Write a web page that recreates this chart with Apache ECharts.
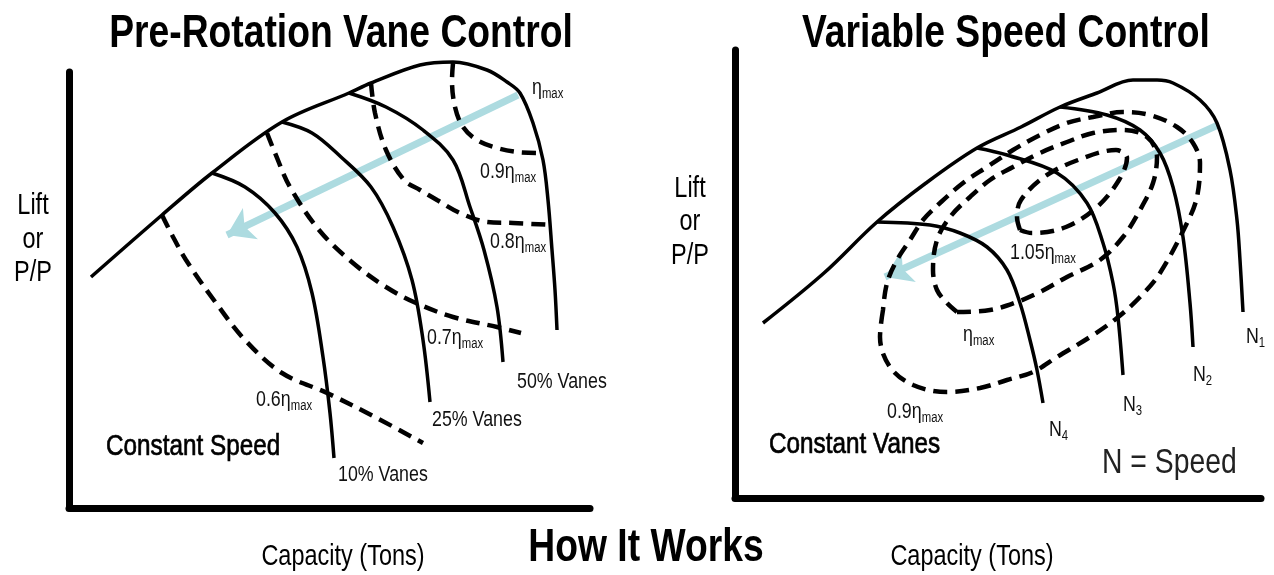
<!DOCTYPE html>
<html>
<head>
<meta charset="utf-8">
<script src="https://cdn.jsdelivr.net/npm/echarts@6.0.0/dist/echarts.min.js"></script>
<style>
    html, body { margin: 0; padding: 0; background: #fff; }
    #main { width: 1274px; height: 575px; }
</style>
</head>
<body>
<div id="main"></div>
<script>
// ---- Left panel: Pre-Rotation Vane Control (x = capacity, y = lift) ----
const vaneEnvelope = [[22,231],[93,293],[143,335],[213,386],[280,415],[302,425],[351,443],[384,446],[418,438],[438,426],[451,415],[464,385],[474,348],[479,308],[483,258],[486,218],[488,178]];
const vane10 = [[143,335],[176,321],[206,295],[228,261],[243,215],[254,151],[261,95],[265,50]];
const vane25 = [[213,386],[243,375],[272,351],[302,321],[324,281],[343,228],[354,168],[361,106]];
const vane50 = [[280,415],[317,401],[354,378],[384,348],[401,301],[415,258],[428,201],[434,146]];
const vaneEta09 = [[384,445],[383,428],[386,401],[394,381],[408,368],[428,360],[448,356],[467,355]];
const vaneEta08 = [[302,425],[306,395],[317,358],[335,328],[351,318],[368,308],[391,295],[418,286],[444,285],[484,283]];
const vaneEta07 = [[198,375],[206,355],[221,321],[250,278],[284,245],[317,221],[347,205],[384,191],[428,181],[452,175]];
const vaneEta06 = [[93,293],[102,275],[117,248],[147,205],[176,168],[213,135],[258,115],[306,91],[354,65]];
const vaneArrow = [[449,413],[158,273]];

// ---- Right panel: Variable Speed Control ----
const speedEnvelope = [[28,175],[89,225],[142,276],[191,315],[242,350],[286,371],[325,391],[362,405],[398,418],[422,418],[438,415],[465,398],[482,375],[495,328],[502,278],[505,238],[508,186]];
const speedN4 = [[142,276],[195,273],[225,265],[252,251],[272,228],[285,195],[295,158],[302,128],[308,95]];
const speedN3 = [[242,350],[272,343],[322,325],[352,295],[368,255],[378,215],[383,181],[388,123]];
const speedN2 = [[325,391],[372,383],[405,368],[425,345],[438,311],[448,261],[455,195],[458,151]];
const speedEta09 = [[148,188],[145,161],[155,131],[178,113],[212,106],[245,110],[272,118],[298,126],[322,141],[355,161],[382,180],[405,201],[425,225],[452,275],[462,301],[465,335],[458,355],[442,371],[415,383],[388,386],[358,381],[332,375],[305,363],[278,348],[252,331],[228,315],[205,295],[188,278],[175,258],[162,238],[152,215],[148,188]];
const speedEta100 = [[222,186],[255,188],[282,196],[305,206],[332,221],[365,238],[388,261],[405,288],[418,315],[422,341],[412,361],[388,368],[358,365],[332,356],[305,345],[278,331],[255,318],[235,301],[215,281],[202,258],[198,228],[202,208],[212,195],[222,186]];
const speedEta105 = [[285,268],[282,281],[286,298],[309,321],[343,338],[381,348],[392,340],[384,318],[362,291],[331,271],[297,265],[285,268]];
const speedArrow = [[483,373],[150,221]];

// annotations, anchored in data units of each panel
const vaneNotes = [
    { at: [463, 420], text: '{n|η}{s|max}' },
    { at: [411, 336], text: '{n|0.9η}{s|max}' },
    { at: [421, 266], text: '{n|0.8η}{s|max}' },
    { at: [358, 170], text: '{n|0.7η}{s|max}' },
    { at: [187, 108], text: '{n|0.6η}{s|max}' },
    { at: [448, 126], text: '{n|50% Vanes}' },
    { at: [363, 88], text: '{n|25% Vanes}' },
    { at: [269, 33], text: '{n|10% Vanes}' },
    { at: [37, 61], text: '{b|Constant Speed}' }
];
const speedNotes = [
    { at: [228, 163], text: '{n|η}{s|max}' },
    { at: [275, 245], text: '{n|1.05η}{s|max}' },
    { at: [152, 86], text: '{n|0.9η}{s|max}' },
    { at: [314, 68], text: '{n|N}{s|4}' },
    { at: [388, 93], text: '{n|N}{s|3}' },
    { at: [458, 123], text: '{n|N}{s|2}' },
    { at: [511, 161], text: '{n|N}{s|1}' },
    { at: [34, 53], text: '{b|Constant Vanes}' },
    { at: [367, 35], text: '{L|N = Speed}' }
];

const FONT = "'Liberation Sans', Arial, sans-serif";
const SQUEEZE = 0.81;   // the source lettering is horizontally condensed

const chart = echarts.init(document.getElementById('main'));

const axisStyle = { show: true, onZero: false, lineStyle: { color: '#000', width: 7 } };
function makeAxis(grid, max) {
    return {
        type: 'value', gridIndex: grid, min: 0, max: max,
        axisLine: axisStyle, axisTick: { show: false },
        axisLabel: { show: false }, splitLine: { show: false }
    };
}

function curve(grid, data, dashed) {
    return {
        type: 'line', xAxisIndex: grid, yAxisIndex: grid, data: data,
        smooth: 0.35, symbol: 'none', clip: false, silent: true, z: dashed ? 3 : 4,
        lineStyle: dashed
            ? { color: '#000', width: 4.5, type: [14, 8] }
            : { color: '#000', width: 3.5 }
    };
}

function arrow(grid, coords) {
    return {
        type: 'lines', coordinateSystem: 'cartesian2d', xAxisIndex: grid, yAxisIndex: grid,
        symbol: ['none', 'arrow'], symbolSize: [20, 26], silent: true, z: 2,
        lineStyle: { color: '#addbe0', width: 7, opacity: 1, curveness: 0 },
        data: [{ coords: coords }]
    };
}

chart.setOption({
    animation: false,
    backgroundColor: '#fff',
    grid: [
        { left: 69, top: 72, width: 521, height: 436 },
        { left: 735, top: 50, width: 526, height: 448 }
    ],
    xAxis: [makeAxis(0, 521), makeAxis(1, 526)],
    yAxis: [makeAxis(0, 436), makeAxis(1, 448)],
    series: [
        arrow(0, vaneArrow),
        curve(0, vaneEnvelope, false),
        curve(0, vane10, false),
        curve(0, vane25, false),
        curve(0, vane50, false),
        curve(0, vaneEta09, true),
        curve(0, vaneEta08, true),
        curve(0, vaneEta07, true),
        curve(0, vaneEta06, true),
        arrow(1, speedArrow),
        curve(1, speedEnvelope, false),
        curve(1, speedN4, false),
        curve(1, speedN3, false),
        curve(1, speedN2, false),
        curve(1, speedEta09, true),
        curve(1, speedEta100, true),
        curve(1, speedEta105, true)
    ]
});

const rich = {
    n: { fontFamily: FONT, fontSize: 22, fill: '#111' },
    s: { fontFamily: FONT, fontSize: 14, fill: '#111', padding: [12, 0, 0, 0] },
    b: { fontFamily: FONT, fontSize: 30, fill: '#000', stroke: '#000', lineWidth: 0.7 },
    L: { fontFamily: FONT, fontSize: 35, fill: '#222' }
};

function textItem(x, y, text, align, size, weight) {
    return {
        type: 'text', x: x, y: y, scaleX: SQUEEZE, z: 100, silent: true,
        style: {
            text: text, fill: '#000', align: align, verticalAlign: 'middle',
            textAlign: align, textVerticalAlign: 'middle',
            fontFamily: FONT, fontSize: size, fontWeight: weight, rich: rich
        }
    };
}

const graphics = [
    textItem(341, 34, 'Pre-Rotation Vane Control', 'center', 46, 'bold'),
    textItem(1006, 34, 'Variable Speed Control', 'center', 46, 'bold'),
    textItem(646, 548, 'How It Works', 'center', 46, 'bold'),
    textItem(343, 557, 'Capacity (Tons)', 'center', 29, 'normal'),
    textItem(972, 557, 'Capacity (Tons)', 'center', 29, 'normal'),
    textItem(33, 206, 'Lift', 'center', 29, 'normal'),
    textItem(33, 240, 'or', 'center', 29, 'normal'),
    textItem(33, 273, 'P/P', 'center', 29, 'normal'),
    textItem(690, 189, 'Lift', 'center', 29, 'normal'),
    textItem(690, 222, 'or', 'center', 29, 'normal'),
    textItem(690, 256, 'P/P', 'center', 29, 'normal')
];

[vaneNotes, speedNotes].forEach(function (notes, grid) {
    notes.forEach(function (note) {
        const p = chart.convertToPixel({ gridIndex: grid }, note.at);
        graphics.push(textItem(p[0], p[1], note.text, 'left', 22, 'normal'));
    });
});

chart.setOption({ graphic: graphics });
</script>
</body>
</html>
